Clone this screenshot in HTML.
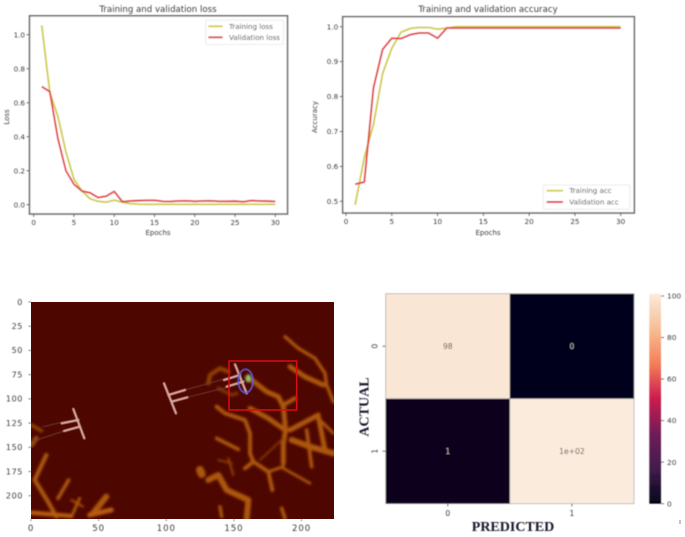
<!DOCTYPE html>
<html>
<head>
<meta charset="utf-8">
<style>
html,body{margin:0;padding:0;background:#fff;}
svg{display:block;}
text{font-family:"DejaVu Sans","Liberation Sans",sans-serif;fill:#3c3c3c;}
</style>
</head>
<body>
<svg id="figure" xmlns="http://www.w3.org/2000/svg" width="685" height="537" viewBox="0 0 685 537">
  <defs>
    <filter id="soft" x="-5%" y="-5%" width="110%" height="110%"><feGaussianBlur stdDeviation="0.45"/></filter>
    <filter id="vessel-blur" filterUnits="userSpaceOnUse" x="-100" y="-100" width="800" height="800"><feGaussianBlur stdDeviation="3.6"/></filter>
    <filter id="probe-blur" filterUnits="userSpaceOnUse" x="0" y="0" width="1100" height="800"><feGaussianBlur stdDeviation="1.8"/></filter>
    <filter id="core-blur" x="-100%" y="-100%" width="300%" height="300%"><feGaussianBlur stdDeviation="4"/></filter>
    <clipPath id="scan-clip"><rect x="31" y="302" width="303" height="217"/></clipPath>
    <linearGradient id="rocket-gradient" x1="0" y1="1" x2="0" y2="0"></linearGradient>
  </defs>
  <rect width="685" height="537" fill="#ffffff"/>
  <g id="loss-chart" filter="url(#soft)"></g>
  <g id="accuracy-chart" filter="url(#soft)"></g>

  <g id="scan-panel">
    <rect x="31" y="302" width="303" height="217" fill="#4d0600"/>
    <g clip-path="url(#scan-clip)">
      <g transform="translate(195,330) scale(0.3333)" fill="none" stroke-linecap="round" stroke-linejoin="round" filter="url(#vessel-blur)" stroke="#ac5608">
        <polyline points="270,20 310,55 360,85 390,130 395,165 415,215" stroke-width="10"/>
        <polyline points="285,110 330,140 385,165" stroke-width="15"/>
        <polyline points="40,160 45,135 75,115 100,125" stroke-width="13" stroke="#8e4006"/>
        <polyline points="70,175 110,195 125,190" stroke-width="11" stroke="#7a3205"/>
        <polyline points="170,150 215,185 250,200 265,230 272,300 265,340 265,400" stroke-width="15"/>
        <polyline points="300,205 265,225" stroke-width="13"/>
        <polyline points="65,230 90,250 150,270 165,310 165,370 175,395 150,415" stroke-width="12"/>
        <polyline points="165,235 220,265 270,300" stroke-width="15"/>
        <polyline points="175,395 220,425 232,480" stroke-width="12"/>
        <polyline points="195,390 265,325" stroke-width="5" stroke="#8e4006"/>
        <polyline points="265,410 220,425" stroke-width="9"/>
        <polyline points="265,415 345,460" stroke-width="8"/>
        <polyline points="285,300 370,255" stroke-width="15"/>
        <polyline points="290,330 345,350 415,370" stroke-width="18"/>
        <polyline points="335,300 350,410" stroke-width="11"/>
        <polyline points="370,260 390,360" stroke-width="15"/>
        <polyline points="375,270 415,310" stroke-width="9"/>
        <polyline points="65,325 130,358" stroke-width="11"/>
        <polyline points="15,420 20,432" stroke-width="24"/>
        <polyline points="40,450 70,435 95,480 160,510 155,565" stroke-width="18"/>
        <polyline points="70,390 110,400" stroke-width="6" stroke="#8e4006"/>
        <polyline points="100,385 115,435" stroke-width="7" stroke="#8e4006"/>
        <polyline points="260,535 270,565" stroke-width="11"/>
        <polyline points="75,530 80,560" stroke-width="10"/>
      </g>
      <g transform="translate(28,400) scale(0.3333)" fill="none" stroke-linecap="round" stroke-linejoin="round" filter="url(#vessel-blur)" stroke="#ac5608">
        <polyline points="10,75 40,92" stroke-width="11" stroke="#8e4006"/>
        <polyline points="10,135 25,115" stroke-width="15" stroke="#96480a"/>
        <polyline points="55,165 20,240 60,305 85,350" stroke-width="13"/>
        <polyline points="10,338 130,348" stroke-width="13" stroke="#b85c08"/>
        <polyline points="122,240 90,295" stroke-width="11"/>
        <polyline points="155,295 135,340" stroke-width="9"/>
        <polyline points="130,300 165,320" stroke-width="6"/>
        <polyline points="195,340 235,290" stroke-width="18"/>
        <polyline points="185,345 250,330" stroke-width="15" stroke="#b85c08"/>
      </g>
      <g transform="translate(0,285) scale(0.3333)" fill="none" stroke-linecap="round" stroke-linejoin="round">
        <g stroke="#6d3a34" stroke-width="3" filter="url(#probe-blur)">
          <line x1="130" y1="425" x2="185" y2="412"/>
          <line x1="100" y1="468" x2="192" y2="438"/>
          <line x1="555" y1="315" x2="680" y2="280"/>
          <line x1="562" y1="337" x2="690" y2="305"/>
        </g>
        <g stroke="#d9a8a2" stroke-width="7" filter="url(#probe-blur)">
          <line x1="220" y1="372" x2="253" y2="460"/>
          <line x1="185" y1="415" x2="235" y2="405"/>
          <line x1="192" y1="438" x2="240" y2="425"/>
          <line x1="492" y1="295" x2="528" y2="385"/>
          <line x1="505" y1="330" x2="555" y2="315"/>
          <line x1="515" y1="350" x2="562" y2="337"/>
          <line x1="705" y1="238" x2="740" y2="325"/>
          <line x1="672" y1="285" x2="720" y2="270"/>
          <line x1="680" y1="305" x2="730" y2="290"/>
        </g>
        <ellipse cx="745" cy="280" rx="9" ry="12" fill="#8fc46a" stroke="none" filter="url(#core-blur)"/>
        <ellipse cx="737" cy="288" rx="22" ry="35" stroke="#5f5ad8" stroke-width="5" filter="url(#probe-blur)"/>
        <rect x="687" y="228" width="203" height="147" stroke="#d80f0f" stroke-width="4.5"/>
      </g>
    </g>
    <g id="scan-axes" filter="url(#soft)"></g>
  </g>

  <g id="confusion-chart" filter="url(#soft)"></g>
  <line x1="680" y1="520" x2="680" y2="524" stroke="#888" stroke-width="1"/>
</svg>
<script>
// Loss chart data
const epochs = [1,2,3,4,5,6,7,8,9,10,11,12,13,14,15,16,17,18,19,20,21,22,23,24,25,26,27,28,29,30];
const trainingLoss = [1.055,0.66,0.52,0.31,0.15,0.08,0.035,0.02,0.015,0.027,0.015,0.006,0.003,0.002,0.002,0.002,0.002,0.002,0.002,0.002,0.002,0.002,0.002,0.002,0.002,0.002,0.002,0.002,0.002,0.002];
const validationLoss = [0.695,0.665,0.39,0.2,0.12,0.08,0.07,0.042,0.05,0.078,0.018,0.022,0.024,0.026,0.026,0.02,0.019,0.022,0.023,0.02,0.022,0.023,0.02,0.02,0.021,0.017,0.024,0.022,0.021,0.019];
const lossTicks = [0,0.2,0.4,0.6,0.8,1.0];
// Accuracy chart data
const trainingAcc = [0.49,0.625,0.72,0.866,0.938,0.984,0.995,0.998,0.998,0.993,0.996,1,1,1,1,1,1,1,1,1,1,1,1,1,1,1,1,1,1,1];
const validationAcc = [0.549,0.555,0.825,0.935,0.967,0.966,0.977,0.982,0.982,0.967,0.996,0.996,0.996,0.996,0.996,0.996,0.996,0.996,0.996,0.996,0.996,0.996,0.996,0.996,0.996,0.996,0.996,0.996,0.996,0.996];
const accTicks = [0.5,0.6,0.7,0.8,0.9,1.0];
const epochTicks = [0,5,10,15,20,25,30];
// Scan image axes data
const scanXTicks = [0,50,100,150,200];
const scanYTicks = [0,25,50,75,100,125,150,175,200];
// Confusion matrix data
const matrixValues = [[98,0],[1,100]];
const matrixLabels = [["98","0"],["1","1e+02"]];
const matrixCategories = ["0","1"];
const colorbarTicks = [0,20,40,60,80,100];
const rocketStops = [[3,5,26],[65,29,75],[112,31,87],[203,27,79],[244,127,88],[246,190,150],[250,235,221]];

const NS = 'http://www.w3.org/2000/svg';
function mk(tag, attrs, parent){
  const el = document.createElementNS(NS, tag);
  for (const k in attrs) el.setAttribute(k, attrs[k]);
  parent.appendChild(el);
  return el;
}
function linear(d0,d1,r0,r1){ return v => r0 + (v-d0)*(r1-r0)/(d1-d0); }
function rocket(t){
  const p = Math.max(0,Math.min(1,t))*(rocketStops.length-1);
  const i = Math.min(Math.floor(p), rocketStops.length-2), f = p-i;
  const c = rocketStops[i].map((a,j)=>Math.round(a+(rocketStops[i+1][j]-a)*f));
  return 'rgb('+c.join(',')+')';
}

function lineChart(root, cfg){
  const x = linear(0,30,cfg.x0,cfg.x30), y = linear(cfg.yA,cfg.yB,cfg.pyA,cfg.pyB);
  const b = cfg.box;
  const frame = mk('rect',{x:b[0],y:b[1],width:b[2]-b[0],height:b[3]-b[1],fill:'#fff',stroke:'#707070','stroke-width':1.6},root);
  
  
  const t = mk('text',{x:cfg.titleX,y:12,'text-anchor':'middle','font-size':8.6},root);
  t.textContent = cfg.title;
  
  
  epochTicks.forEach(v=>{
    const tk = mk('line',{x1:x(v),x2:x(v),y1:b[3],y2:b[3]+3,stroke:'#555','stroke-width':.8},root);
    
    
    const l = mk('text',{x:x(v),y:b[3]+11,'text-anchor':'middle','font-size':7.2},root);
    l.textContent = v;
    
    
  });
  cfg.ticks.forEach(v=>{
    const tk = mk('line',{x1:b[0]-3,x2:b[0],y1:y(v),y2:y(v),stroke:'#555','stroke-width':.8},root);
    
    
    const l = mk('text',{x:b[0]-4.5,y:y(v)+2.6,'text-anchor':'end','font-size':7.2},root);
    l.textContent = v.toFixed(1);
    
    
  });
  const xl = mk('text',{x:cfg.titleX,y:235,'text-anchor':'middle','font-size':7},root);
  xl.textContent = 'Epochs';
  
  
  const yl = mk('text',{transform:'translate('+cfg.ylabelX+',117) rotate(-90)','text-anchor':'middle','font-size':7},root);
  yl.textContent = cfg.ylabel;
  
  
  const d1 = mk('polyline',{points:epochs.map((e,i)=>x(e)+','+y(cfg.train[i])).join(' '),fill:'none',stroke:'#d0ce48','stroke-width':1.9,'stroke-linejoin':'round'},root);
  
  
  const d2 = mk('polyline',{points:epochs.map((e,i)=>x(e)+','+y(cfg.val[i])).join(' '),fill:'none',stroke:'#e2434a','stroke-width':1.9,'stroke-linejoin':'round'},root);
  
  
  const L = cfg.legend;
  const lg = mk('rect',{x:L.x,y:L.y,width:L.w,height:L.h,fill:'#fff',stroke:'#e6e6e6','stroke-width':.8,rx:1.5},root);
  
  
  const rows = [[cfg.names[0],'#d0ce48',L.y1],[cfg.names[1],'#e2434a',L.y2]];
  rows.forEach(r=>{
    const s = mk('line',{x1:L.lx0,x2:L.lx1,y1:r[2],y2:r[2],stroke:r[1],'stroke-width':1.9},root);
    
    
    const tx = mk('text',{x:L.tx,y:r[2]+2.5,'font-size':7.1},root);
    tx.textContent = r[0];
    
    
  });
}

lineChart(document.getElementById('loss-chart'),{
  x0:33.7,x30:275.3,yA:0,yB:1,pyA:204.7,pyB:34.7,box:[29.5,15.8,287.5,214],
  title:'Training and validation loss',titleX:158,ylabel:'Loss',ylabelX:9,ticks:lossTicks,
  train:trainingLoss,val:validationLoss,names:['Training loss','Validation loss'],
  legend:{x:205.7,y:20,w:77.6,h:24.5,y1:26.3,y2:37.3,lx0:208.3,lx1:222.6,tx:229}
});
lineChart(document.getElementById('accuracy-chart'),{
  x0:346,x30:620.7,yA:0.5,yB:1,pyA:201.3,pyB:26.7,box:[342.7,16.7,634.3,213],
  title:'Training and validation accuracy',titleX:488,ylabel:'Accuracy',ylabelX:317,ticks:accTicks,
  train:trainingAcc,val:validationAcc,names:['Training acc','Validation acc'],
  legend:{x:543.3,y:185,w:86.7,h:24.3,y1:190.7,y2:202,lx0:546.7,lx1:563,tx:569.3}
});

// Scan image axes
(function(){
  const root = document.getElementById('scan-axes');
  const x = linear(0,224,31,334), y = linear(0,224,302,519);
  scanXTicks.forEach(v=>{
    const tk = mk('line',{x1:x(v),x2:x(v),y1:519,y2:521,stroke:'#555','stroke-width':.8},root);
    
    
    const l = mk('text',{x:x(v),y:531,'text-anchor':'middle','font-size':8.6,'letter-spacing':.9},root);
    l.textContent = v;
    
    
  });
  scanYTicks.forEach(v=>{
    const tk = mk('line',{x1:28.5,x2:31,y1:y(v),y2:y(v),stroke:'#555','stroke-width':.8},root);
    
    
    const l = mk('text',{x:23,y:y(v)+2.8,'text-anchor':'end','font-size':8,'letter-spacing':.6},root);
    l.textContent = v;
    
    
  });
})();

// Confusion matrix
(function(){
  const root = document.getElementById('confusion-chart');
  const colX = linear(0,2,385.7,634), rowY = linear(0,2,293.7,503.7);
  const norm = v => v/100;
  matrixValues.forEach((row,r)=>row.forEach((v,c)=>{
    const cell = mk('rect',{x:colX(c),y:rowY(r),width:colX(c+1)-colX(c),height:rowY(r+1)-rowY(r),fill:rocket(norm(v)),stroke:'#9a9a9a','stroke-width':.6},root);
    
    
    const l = mk('text',{x:colX(c+.5),y:rowY(r+.5)+2.6,'text-anchor':'middle','font-size':7.6,style:'fill:'+(norm(v)>.5?'#5a5250':'#b4b4b4')},root);
    l.textContent = matrixLabels[r][c];
    
    
  }));
  matrixCategories.forEach((name,i)=>{
    const tx = mk('line',{x1:colX(i+.5),x2:colX(i+.5),y1:503.7,y2:506.5,stroke:'#555','stroke-width':.8},root);
    
    
    const lx = mk('text',{x:colX(i+.5),y:516,'text-anchor':'middle','font-size':7.6},root);
    lx.textContent = name;
    
    
    const ty = mk('line',{x1:382.5,x2:385.7,y1:rowY(i+.5),y2:rowY(i+.5),stroke:'#555','stroke-width':.8},root);
    
    
    const ly = mk('text',{transform:'translate(377.5,'+rowY(i+.5)+') rotate(-90)','text-anchor':'middle','font-size':7.6},root);
    ly.textContent = name;
    
    
  });
  const xt = mk('text',{x:513,y:531,'text-anchor':'middle','font-size':14,'font-weight':'bold',style:'font-family:\'Liberation Serif\',serif;fill:#14142a'},root);
  xt.textContent = 'PREDICTED';
  
  
  const yt = mk('text',{transform:'translate(368.5,407) rotate(-90)','text-anchor':'middle','font-size':14,'font-weight':'bold',style:'font-family:\'Liberation Serif\',serif;fill:#14142a'},root);
  yt.textContent = 'ACTUAL';
  
  

  const grad = document.getElementById('rocket-gradient');
  rocketStops.forEach((c,i)=>{
    const t = i/(rocketStops.length-1);
    mk('stop',{offset:t,'stop-color':rocket(t)},grad);
  });
  const cb = mk('rect',{x:649.3,y:293.7,width:11.7,height:210,fill:'url(#rocket-gradient)'},root);
  
  
  const cy = linear(0,100,503.7,296);
  colorbarTicks.forEach(v=>{
    const tk = mk('line',{x1:661,x2:664,y1:cy(v),y2:cy(v),stroke:'#555','stroke-width':.8},root);
    
    
    const l = mk('text',{x:667,y:cy(v)+2.6,'font-size':7.4},root);
    l.textContent = v;
    
    
  });
})();
</script>
</body>
</html>
